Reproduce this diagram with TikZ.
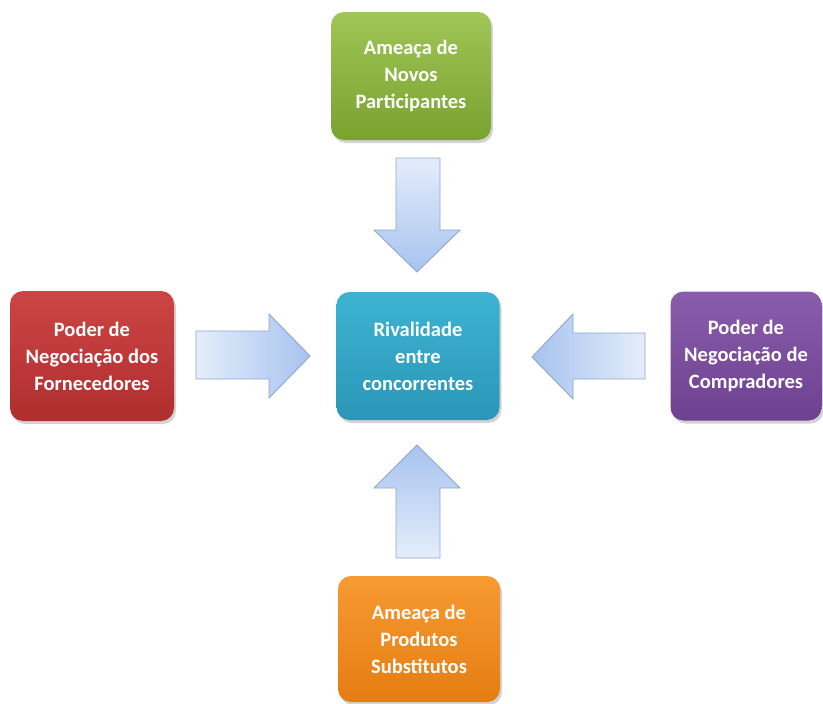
\documentclass[tikz,border=0pt]{standalone}
\usepackage{fontspec}
\setmainfont{Carlito}
\usetikzlibrary{shadows}
\definecolor{gtop}{HTML}{9FC656}
\definecolor{gbot}{HTML}{7AA22F}
\definecolor{btop}{HTML}{3DB3D2}
\definecolor{bbot}{HTML}{2A96B8}
\definecolor{rtop}{HTML}{CC4544}
\definecolor{rbot}{HTML}{B02E2F}
\definecolor{ptop}{HTML}{8A5DAC}
\definecolor{pbot}{HTML}{6E4190}
\definecolor{otop}{HTML}{F79A32}
\definecolor{obot}{HTML}{E47D12}
\definecolor{alight}{HTML}{E4EDFB}
\definecolor{adark}{HTML}{A7C3EF}
\definecolor{aedge}{HTML}{8EA6CC}
\tikzset{
  forcebox/.style={rounded corners=13pt, inner sep=0pt, align=center,
    text=white, font=\bfseries\fontsize{20.5}{27}\selectfont,
    drop shadow={shadow xshift=2pt, shadow yshift=-3pt, opacity=0.35}},
  blockarrow/.style={draw=aedge, line width=0.9pt, line join=miter}
}
\begin{document}
\begin{tikzpicture}[x=1pt,y=-1pt]
\useasboundingbox (0,0) rectangle (823,704);
% boxes
\node[forcebox, top color=gtop, bottom color=gbot, minimum width=160pt, minimum height=128pt]
  (novos) at (411,76) {Ameaça de\\Novos\\Participantes};
\node[forcebox, top color=btop, bottom color=bbot, minimum width=163pt, minimum height=128pt]
  (rival) at (418,356) {Rivalidade\\entre\\concorrentes};
\node[forcebox, top color=rtop, bottom color=rbot, minimum width=164pt, minimum height=130pt]
  (fornec) at (92,356) {Poder de\\Negociação dos\\Fornecedores};
\node[forcebox, top color=ptop, bottom color=pbot, minimum width=151pt, minimum height=129pt]
  (compr) at (746,356) {Poder de\\Negociação de\\Compradores};
\node[forcebox, top color=otop, bottom color=obot, minimum width=162pt, minimum height=126pt]
  (subst) at (419,639) {Ameaça de\\Produtos\\Substitutos};
% block arrows
% down arrow (from novos)
\path[blockarrow, top color=alight, bottom color=adark]
  (396,158) -- (440,158) -- (440,230) -- (460,230) -- (417,272)
  -- (374,230) -- (396,230) -- cycle;
% up arrow (from subst)
\path[blockarrow, top color=adark, bottom color=alight]
  (396,558) -- (440,558) -- (440,488) -- (460,488) -- (417,445)
  -- (374,488) -- (396,488) -- cycle;
% right arrow (from fornec)
\path[blockarrow, left color=alight, right color=adark]
  (196,331) -- (269,331) -- (269,314) -- (310,356) -- (269,398)
  -- (269,379) -- (196,379) -- cycle;
% left arrow (from compr)
\path[blockarrow, left color=adark, right color=alight]
  (645,333) -- (573,333) -- (573,314) -- (532,357) -- (573,399)
  -- (573,379) -- (645,379) -- cycle;
\end{tikzpicture}
\end{document}
